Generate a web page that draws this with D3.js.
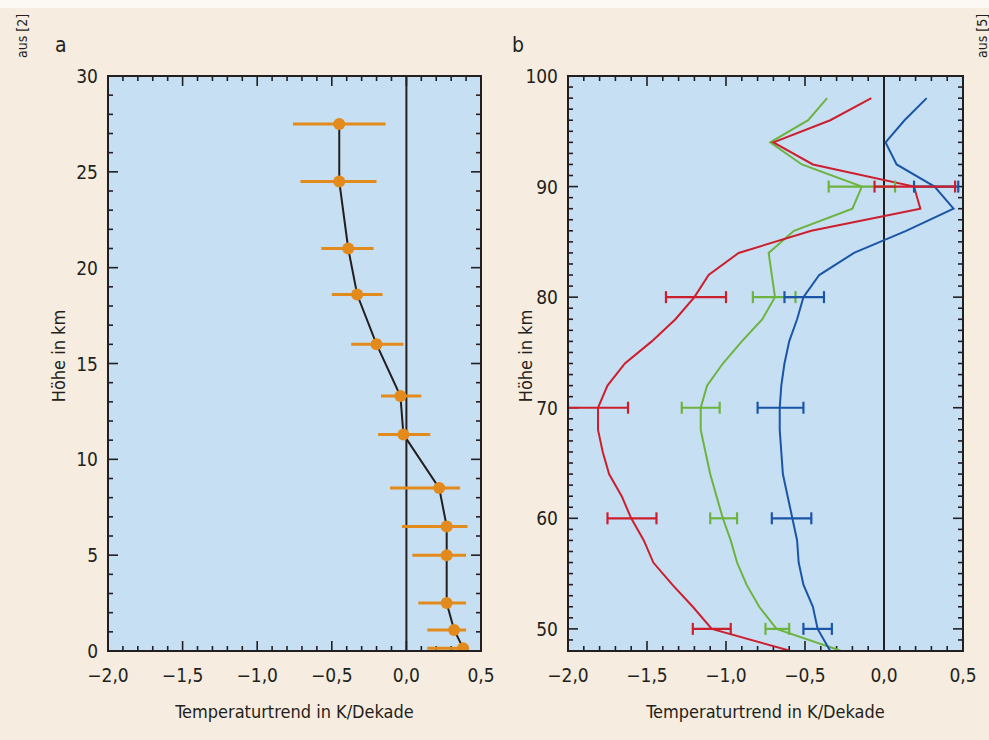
<!DOCTYPE html>
<html>
<head>
<meta charset="utf-8">
<script src="https://cdn.jsdelivr.net/npm/d3@7"></script>
<style>
  html, body { margin: 0; padding: 0; background: #f6ecdf; }
  svg { display: block; }
  text { font-family: "DejaVu Sans Condensed", "DejaVu Sans", sans-serif; font-stretch: condensed; fill: #231f20; }
</style>
</head>
<body>
<div id="chart"></div>
<script>
// panel a: Radiosonden-Trend, Höhe 0-30 km
var heightsA = [27.5, 24.5, 21, 18.6, 16, 13.3, 11.3, 8.5, 6.5, 5, 2.5, 1.1, 0.15];
var trendA   = [-0.45, -0.45, -0.39, -0.33, -0.20, -0.04, -0.02, 0.22, 0.27, 0.27, 0.27, 0.32, 0.38];
var errLowA  = [-0.76, -0.71, -0.57, -0.50, -0.37, -0.17, -0.19, -0.11, -0.03, 0.04, 0.08, 0.14, 0.14];
var errHighA = [-0.14, -0.20, -0.22, -0.16, -0.02, 0.10, 0.16, 0.36, 0.41, 0.40, 0.40, 0.40, 0.40];

// panel b: drei Profile 48-98 km
var heightsB = [48, 50, 52, 54, 56, 58, 60, 62, 64, 66, 68, 70, 72, 74, 76, 78, 80, 82, 84, 86, 88, 90, 92, 94, 96, 98];
var redB   = [-0.59, -1.09, -1.21, -1.34, -1.46, -1.52, -1.60, -1.66, -1.74, -1.78, -1.81, -1.81, -1.75, -1.64, -1.47, -1.32, -1.20, -1.11, -0.92, -0.46, 0.23, 0.19, -0.45, -0.70, -0.34, -0.08];
var greenB = [-0.27, -0.68, -0.79, -0.87, -0.93, -0.97, -1.02, -1.06, -1.10, -1.13, -1.16, -1.16, -1.12, -1.02, -0.90, -0.77, -0.69, -0.71, -0.73, -0.57, -0.20, -0.14, -0.52, -0.72, -0.48, -0.36];
var blueB  = [-0.34, -0.42, -0.45, -0.51, -0.54, -0.55, -0.58, -0.61, -0.64, -0.65, -0.66, -0.66, -0.65, -0.63, -0.60, -0.55, -0.51, -0.41, -0.19, 0.14, 0.44, 0.32, 0.08, 0.01, 0.13, 0.27];

var errHeightsB = [50, 60, 70, 80, 90];
var redLow   = [-1.21, -1.75, -2.00, -1.38, -0.06];
var redHigh  = [-0.97, -1.44, -1.62, -1.00, 0.45];
var greenLow = [-0.75, -1.10, -1.28, -0.83, -0.35];
var greenHigh= [-0.60, -0.93, -1.04, -0.56, 0.07];
var blueLow  = [-0.51, -0.71, -0.80, -0.63, 0.19];
var blueHigh = [-0.33, -0.46, -0.51, -0.38, 0.47];

var xTicks = [-2.0, -1.5, -1.0, -0.5, 0.0, 0.5];
var yTicksA = [0, 5, 10, 15, 20, 25, 30];
var yTicksB = [50, 60, 70, 80, 90, 100];

var colors = { red: '#cc1f2e', green: '#6db33f', blue: '#1b56a6', orange: '#e38a1d' };

var W = 989, H = 740;
var svg = d3.select('#chart').append('svg').attr('width', W).attr('height', H);

svg.append('rect').attr('width', W).attr('height', H).attr('fill', '#f6ecdf');
svg.append('rect').attr('width', W).attr('height', 8).attr('fill', '#fcf9f4');

var fmt = function (d) { return d3.format('.1f')(d).replace('.', ',').replace('-', '\u2212'); };

function panel(opts) {
    var x = d3.scaleLinear().domain([-2, 0.5]).range([opts.left, opts.right]);
    var y = d3.scaleLinear().domain(opts.yDomain).range([opts.bottom, opts.top]);
    var g = svg.append('g');

    g.append('rect').attr('x', opts.left).attr('y', opts.top)
        .attr('width', opts.right - opts.left).attr('height', opts.bottom - opts.top)
        .attr('fill', '#c7dff3');

    // minor/major ticks inward on all four sides
    var xMinor = d3.range(-2, 0.501, 0.1);
    var yMinor = d3.range(opts.yDomain[0], opts.yDomain[1] + 0.01, 1);
    var isMajorX = function (v) { return Math.abs(v * 2 - Math.round(v * 2)) < 1e-6; };
    var isMajorY = function (v) { return Math.abs(v % opts.yMajor) < 1e-6; };

    var ticks = g.append('g').attr('stroke', '#231f20').attr('stroke-width', 1.6);
    xMinor.forEach(function (v) {
        var len = isMajorX(v) ? 10 : 5;
        ticks.append('line').attr('x1', x(v)).attr('x2', x(v)).attr('y1', opts.bottom).attr('y2', opts.bottom - len);
        ticks.append('line').attr('x1', x(v)).attr('x2', x(v)).attr('y1', opts.top).attr('y2', opts.top + len);
    });
    yMinor.forEach(function (v) {
        var len = isMajorY(v) ? 10 : 5;
        ticks.append('line').attr('x1', opts.left).attr('x2', opts.left + len).attr('y1', y(v)).attr('y2', y(v));
        ticks.append('line').attr('x1', opts.right).attr('x2', opts.right - len).attr('y1', y(v)).attr('y2', y(v));
    });

    // zero line
    g.append('line').attr('x1', x(0)).attr('x2', x(0)).attr('y1', opts.top).attr('y2', opts.bottom)
        .attr('stroke', '#231f20').attr('stroke-width', 2);

    var clip = 'clip-' + opts.name;
    svg.append('clipPath').attr('id', clip).append('rect')
        .attr('x', opts.left).attr('y', opts.top - 8)
        .attr('width', opts.right - opts.left).attr('height', opts.bottom - opts.top + 8);
    var data = g.append('g').attr('clip-path', 'url(#' + clip + ')');

    // frame
    g.append('rect').attr('x', opts.left).attr('y', opts.top)
        .attr('width', opts.right - opts.left).attr('height', opts.bottom - opts.top)
        .attr('fill', 'none').attr('stroke', '#231f20').attr('stroke-width', 2);

    // tick labels
    g.append('g').selectAll('text').data(xTicks).join('text')
        .attr('x', function (d) { return x(d); }).attr('y', opts.bottom + 31)
        .attr('text-anchor', 'middle').attr('font-size', 19).text(fmt);
    g.append('g').selectAll('text').data(opts.yTicks).join('text')
        .attr('x', opts.left - 10).attr('y', function (d) { return y(d) + 7; })
        .attr('text-anchor', 'end').attr('font-size', 19).text(function (d) { return d; });

    g.append('text').attr('x', (opts.left + opts.right) / 2).attr('y', opts.bottom + 67)
        .attr('text-anchor', 'middle').attr('font-size', 18).text('Temperaturtrend in K/Dekade');
    g.append('text').attr('transform', 'translate(' + opts.titleX + ',356) rotate(-90)')
        .attr('text-anchor', 'middle').attr('font-size', 18).text('Höhe in km');
    g.append('text').attr('x', opts.letterX).attr('y', 52).attr('font-size', 21).text(opts.letter);

    return { x: x, y: y, layer: data };
}

// panel a
var pa = panel({ name: 'a', left: 108, right: 481, top: 76, bottom: 651, yDomain: [0, 30], yMajor: 5,
    yTicks: yTicksA, titleX: 65, letter: 'a', letterX: 55 });
var ptsA = heightsA.map(function (h, i) { return { h: h, v: trendA[i], lo: errLowA[i], hi: errHighA[i] }; });

pa.layer.append('g').selectAll('line').data(ptsA).join('line')
    .attr('x1', function (d) { return pa.x(d.lo); }).attr('x2', function (d) { return pa.x(d.hi); })
    .attr('y1', function (d) { return pa.y(d.h); }).attr('y2', function (d) { return pa.y(d.h); })
    .attr('stroke', colors.orange).attr('stroke-width', 3);
pa.layer.append('path').datum(ptsA)
    .attr('d', d3.line().x(function (d) { return pa.x(d.v); }).y(function (d) { return pa.y(d.h); }))
    .attr('fill', 'none').attr('stroke', '#231f20').attr('stroke-width', 2);
pa.layer.append('g').selectAll('circle').data(ptsA).join('circle')
    .attr('cx', function (d) { return pa.x(d.v); }).attr('cy', function (d) { return pa.y(d.h); })
    .attr('r', 6).attr('fill', colors.orange);

// panel b
var pb = panel({ name: 'b', left: 568, right: 963, top: 76, bottom: 651, yDomain: [48, 100], yMajor: 10,
    yTicks: yTicksB, titleX: 532, letter: 'b', letterX: 512 });

var series = [
    { color: colors.green, vals: greenB, lo: greenLow, hi: greenHigh },
    { color: colors.blue, vals: blueB, lo: blueLow, hi: blueHigh },
    { color: colors.red, vals: redB, lo: redLow, hi: redHigh }
];
var lineB = d3.line().x(function (d) { return pb.x(d[1]); }).y(function (d) { return pb.y(d[0]); });

series.forEach(function (s) {
    pb.layer.append('path').datum(heightsB.map(function (h, i) { return [h, s.vals[i]]; }))
        .attr('d', lineB).attr('fill', 'none').attr('stroke', s.color).attr('stroke-width', 2);
});
series.forEach(function (s) {
    var eb = pb.layer.append('g').attr('stroke', s.color).attr('stroke-width', 2.2);
    errHeightsB.forEach(function (h, i) {
        var yy = pb.y(h);
        eb.append('line').attr('x1', pb.x(s.lo[i])).attr('x2', pb.x(s.hi[i])).attr('y1', yy).attr('y2', yy);
        eb.append('line').attr('x1', pb.x(s.lo[i])).attr('x2', pb.x(s.lo[i])).attr('y1', yy - 6).attr('y2', yy + 6);
        eb.append('line').attr('x1', pb.x(s.hi[i])).attr('x2', pb.x(s.hi[i])).attr('y1', yy - 6).attr('y2', yy + 6);
    });
});

// source notes
svg.append('text').attr('transform', 'translate(27,36) rotate(-90)').attr('text-anchor', 'middle')
    .attr('font-size', 14).text('aus [2]');
svg.append('text').attr('transform', 'translate(987,36) rotate(-90)').attr('text-anchor', 'middle')
    .attr('font-size', 14).text('aus [5]');
</script>
</body>
</html>
